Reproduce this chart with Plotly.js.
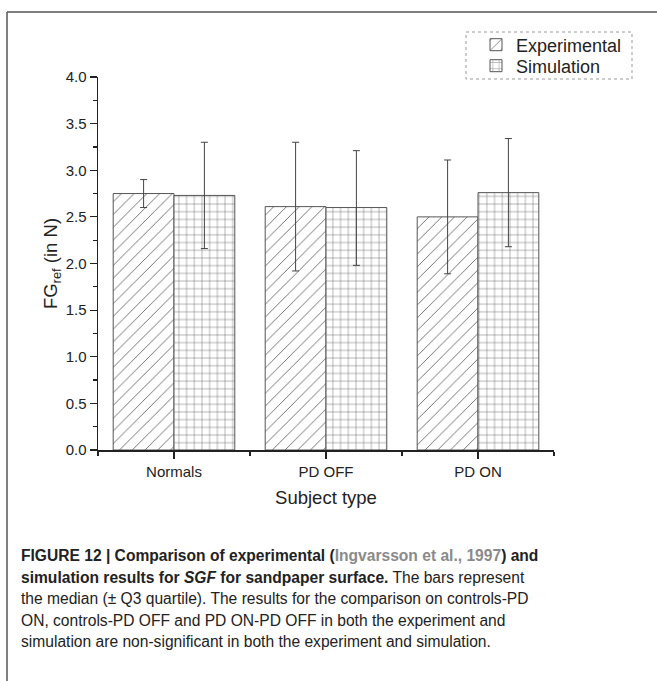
<!DOCTYPE html>
<html>
<head>
<meta charset="utf-8">
<script src="https://cdn.plot.ly/plotly-3.0.1.min.js"></script>
<style>
html,body{margin:0;padding:0;background:#fff;}
#chart{width:657px;height:681px;}
</style>
</head>
<body>
<div id="chart"></div>
<script>
// ---- data ----
const categories = ["Normals", "PD OFF", "PD ON"];
const experimental = [2.75, 2.61, 2.50];
const experimentalUpper = [2.90, 3.30, 3.11];
const experimentalLower = [2.60, 1.92, 1.89];
const simulation = [2.73, 2.60, 2.76];
const simulationUpper = [3.30, 3.21, 3.34];
const simulationLower = [2.16, 1.98, 2.18];
const yTickVals = [0, 0.5, 1, 1.5, 2, 2.5, 3, 3.5, 4];
const yTickText = ["0.0", "0.5", "1.0", "1.5", "2.0", "2.5", "3.0", "3.5", "4.0"];
const seriesNames = ["Experimental", "Simulation"];

// ---- layout constants ----
const W = 657, H = 681;
const L = 98, R = 103, T = 77, B = 231;
const PW = W - L - R, PH = H - T - B;
const px = x => (x - L) / PW;
const py = y => (H - B - y) / PH;

const xs = categories.map((c, i) => i);
const diff = (a, b) => a.map((v, i) => +(v - b[i]).toFixed(3));

const FONT = "Liberation Sans, Arial, sans-serif";
const errStyle = { type: "data", symmetric: false, color: "#444", thickness: 1, width: 3.5 };

const traces = [
  {
    type: "bar", name: seriesNames[0], x: xs, y: experimental, legend: "legend",
    marker: { color: "#fff", line: { color: "#555", width: 1 },
      pattern: { shape: "/", fgcolor: "#666", bgcolor: "#fff", size: 9, solidity: 0.1 } },
    error_y: Object.assign({}, errStyle, { array: diff(experimentalUpper, experimental), arrayminus: diff(experimental, experimentalLower) })
  },
  {
    type: "bar", name: seriesNames[1], x: xs, y: simulation, legend: "legend2",
    marker: { color: "#fff", line: { color: "#555", width: 1 },
      pattern: { shape: "+", fgcolor: "#666", bgcolor: "#fff", size: 7.7, solidity: 0.12 } },
    error_y: Object.assign({}, errStyle, { array: diff(simulationUpper, simulation), arrayminus: diff(simulation, simulationLower) })
  }
];

const capFont = { family: "Liberation Sans, Arial, sans-serif", size: 15.6, color: "#222" };
const captionLines = [
  "<b>FIGURE 12 | Comparison of experimental (</b><span style=\"color:#8a8a8a\"><b>Ingvarsson et al., 1997</b></span><b>) and</b>",
  "<b>simulation results for <i>SGF</i> for sandpaper surface.</b> The bars represent",
  "the median (± Q3 quartile). The results for the comparison on controls-PD",
  "ON, controls-PD OFF and PD ON-PD OFF in both the experiment and",
  "simulation are non-significant in both the experiment and simulation."
];
const captionY = [555, 577, 598, 620, 641];

const annotations = captionLines.map((t, i) => ({
  text: t, xref: "paper", yref: "paper", x: px(19), y: py(captionY[i]),
  xanchor: "left", yanchor: "middle", align: "left", showarrow: false, font: capFont
}));

const legFont = { family: FONT, size: 18, color: "#222" };
const layout = {
  width: W, height: H,
  margin: { l: L, r: R, t: T, b: B, pad: 0 },
  paper_bgcolor: "#fff", plot_bgcolor: "#fff",
  barmode: "group", bargap: 0.2, bargroupgap: 0,
  showlegend: true,
  legend: {
    x: px(476), y: py(45), xanchor: "left", yanchor: "middle",
    bgcolor: "rgba(0,0,0,0)", borderwidth: 0, font: legFont, itemwidth: 30
  },
  legend2: {
    x: px(476), y: py(66), xanchor: "left", yanchor: "middle",
    bgcolor: "rgba(0,0,0,0)", borderwidth: 0, font: legFont, itemwidth: 30
  },
  xaxis: {
    range: [-0.5, 2.5], tickmode: "array", tickvals: xs, ticktext: categories,
    showline: true, linecolor: "#222", linewidth: 1.5,
    ticks: "outside", ticklen: 7, tickwidth: 1.2, tickcolor: "#222",
    minor: { tickmode: "array", tickvals: [-0.5, 0.5, 1.5, 2.5], ticks: "outside", ticklen: 4, tickwidth: 1.2, tickcolor: "#222" },
    showgrid: false, zeroline: false, fixedrange: true,
    tickfont: { family: FONT, size: 15, color: "#222" },
    title: { text: "Subject type", font: { family: FONT, size: 18.5, color: "#222" }, standoff: 12 }
  },
  yaxis: {
    range: [0, 4], tickmode: "array", tickvals: yTickVals, ticktext: yTickText,
    showline: true, linecolor: "#222", linewidth: 1.5,
    ticks: "outside", ticklen: 7, tickwidth: 1.2, tickcolor: "#222",
    minor: { dtick: 0.25, ticks: "outside", ticklen: 4, tickwidth: 1.2, tickcolor: "#222" },
    showgrid: false, zeroline: false, fixedrange: true,
    tickfont: { family: FONT, size: 15, color: "#222" },
    title: { text: "FG<sub>ref</sub> (in N)", font: { family: FONT, size: 18.5, color: "#222" }, standoff: 3 }
  },
  shapes: [
    { type: "line", xref: "paper", yref: "paper", x0: px(7), x1: px(657), y0: py(12), y1: py(12), line: { color: "#555", width: 1.5 } },
    { type: "line", xref: "paper", yref: "paper", x0: px(7), x1: px(7), y0: py(12), y1: py(681), line: { color: "#555", width: 1.5 } },
    { type: "rect", xref: "paper", yref: "paper", x0: px(466), x1: px(632), y0: py(32), y1: py(79), line: { color: "#999", width: 1, dash: "dot" } }
  ],
  annotations: annotations
};

Plotly.newPlot("chart", traces, layout, { displayModeBar: false, staticPlot: true });
</script>
</body>
</html>
